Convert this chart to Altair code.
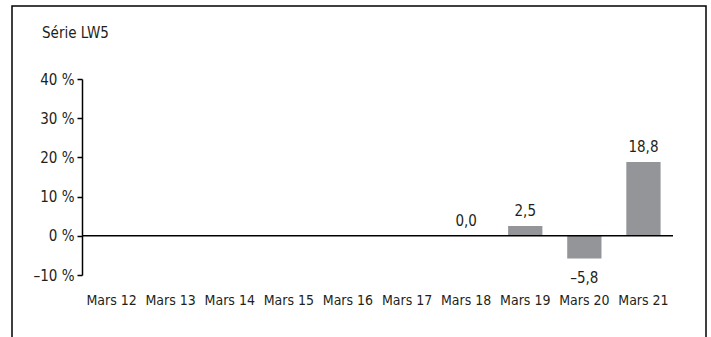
import altair as alt
import pandas as pd

categories = ["Mars 12", "Mars 13", "Mars 14", "Mars 15", "Mars 16",
              "Mars 17", "Mars 18", "Mars 19", "Mars 20", "Mars 21"]
values = [None, None, None, None, None, None, 0.0, 2.5, -5.8, 18.8]
y_ticks = [-10, 0, 10, 20, 30, 40]
title_text = ["Série LW5"]

def fmt(v):
    if v is None:
        return ""
    s = f"{abs(v):.1f}".replace(".", ",")
    return ("–" + s) if v < 0 else s

df = pd.DataFrame({
    "cat": categories,
    "val": values,
    "label": [fmt(v) for v in values],
})

FONT = "Liberation Sans Narrow, DejaVu Sans Condensed, sans-serif"
FS = 15
FSX = 14
TXT = "#231f20"

x = alt.X("cat:N", sort=categories, title=None,
          scale=alt.Scale(paddingInner=0.42, paddingOuter=0.21),
          axis=alt.Axis(labelAngle=0, domain=False, ticks=False, labelPadding=18,
                        labelOverlap=False,
                        labelFont=FONT, labelFontSize=FSX, labelColor=TXT))

y_axis = alt.Axis(values=y_ticks, grid=False, domainColor="black", domainWidth=1.5,
                  tickColor="black", tickWidth=1.5, tickSize=5, labelPadding=3,
                  labelOverlap=False, labelBound=False, labelFlush=False,
                  labelFont=FONT, labelFontSize=FS, labelColor=TXT,
                  labelExpr="(datum.value < 0 ? '–' + abs(datum.value) : datum.value) + ' %'")
y = alt.Y("val:Q", title=None, scale=alt.Scale(domain=[-10, 40], nice=False), axis=y_axis)

base = alt.Chart(df).encode(x=x, y=y)

bars = base.mark_bar(color="#939598")

zero = alt.Chart(pd.DataFrame({"val": [0]})).mark_rule(color="black", strokeWidth=1.5).encode(
    y=y, x=alt.value(0), x2=alt.value(591))

lab_pos = base.transform_filter("datum.label != '' && datum.val >= 0").mark_text(
    baseline="bottom", dy=-7, font=FONT, fontSize=FS, color=TXT).encode(text="label:N")

lab_neg = base.transform_filter("datum.label != '' && datum.val < 0").mark_text(
    baseline="top", dy=12, font=FONT, fontSize=FS, color=TXT).encode(text="label:N")

title = alt.Chart(pd.DataFrame({"t": title_text})).mark_text(
    align="left", baseline="bottom", font=FONT, fontSize=FS, color=TXT).encode(
    x=alt.value(-40), y=alt.value(-38), text="t:N")

frame = alt.Chart(pd.DataFrame({"a": [0]})).mark_rect(
    fill=None, stroke="black", strokeWidth=1.5).encode(
    x=alt.value(-70), x2=alt.value(624), y=alt.value(-73), y2=alt.value(300))

chart = alt.layer(bars, zero, lab_pos, lab_neg, title, frame).properties(
    width=591, height=196,
    autosize=alt.AutoSizeParams(type="none"),
    padding={"left": 82, "top": 79, "right": 38, "bottom": 62},
    background="white",
).configure_view(strokeWidth=0, stroke="transparent")

chart.save("out.html", embed_options={"renderer": "svg", "actions": False})
